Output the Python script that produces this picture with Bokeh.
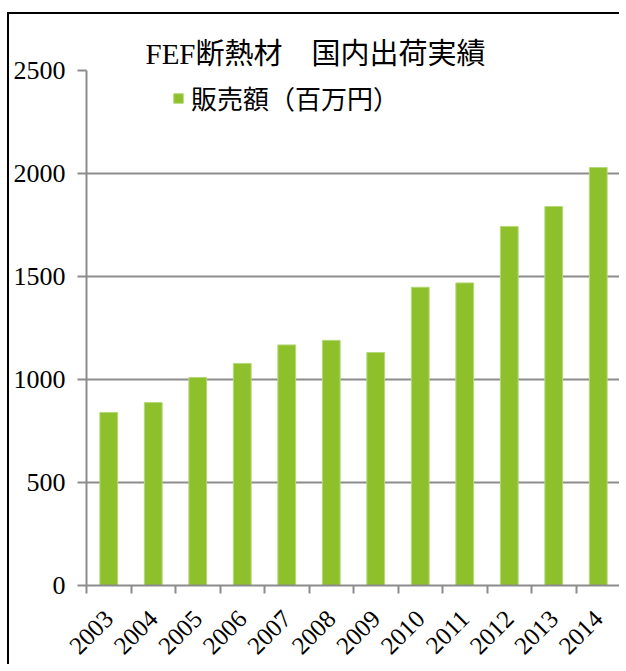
from math import pi
from bokeh.plotting import figure
from bokeh.models import (Range1d, LinearAxis, FixedTicker, Title,
                          Legend, LegendItem)
from bokeh.embed import file_html
from bokeh.resources import INLINE

years = ["2003", "2004", "2005", "2006", "2007", "2008",
         "2009", "2010", "2011", "2012", "2013", "2014"]
sales = [840, 888, 1010, 1078, 1168, 1190, 1131, 1448, 1469, 1743, 1840, 2029]
y_ticks = [0, 500, 1000, 1500, 2000, 2500]
title_text = "FEF断熱材　国内出荷実績"
series_name = "販売額（百万円）"

SERIF = "'Liberation Serif', 'Noto Sans CJK JP'"
GRID = "#8c8c8c"
GREEN = "#8dc02a"

n = len(years)
centers = [i + 0.5 for i in range(n)]
bounds = list(range(n + 1))

p = figure(x_range=Range1d(0, n), y_range=Range1d(0, 2500), width=612, height=652,
           output_backend="svg", toolbar_location=None,
           x_axis_location=None, y_axis_location="left",
           min_border_left=77, min_border_top=56, min_border_right=1,
           min_border_bottom=81)
p.styles = {"border-left": "2px solid #000", "border-top": "2px solid #000",
            "margin-top": "12px", "margin-left": "7px"}
p.outline_line_color = None
p.background_fill_color = "white"
p.border_fill_color = "white"

p.title = Title(text=title_text, align="left", offset=59, standoff=2,
                text_font=SERIF, text_font_size="29px", text_font_style="normal",
                text_color="black")

r = p.vbar(x=centers, top=sales, width=0.4, fill_color=GREEN,
           line_color="#b5d97a", line_width=1)

# y axis
ya = p.yaxis[0]
ya.ticker = FixedTicker(ticks=y_ticks)
ya.axis_line_color = GRID
ya.axis_line_width = 2
ya.major_tick_line_color = GRID
ya.major_tick_line_width = 2
ya.major_tick_out = 9
ya.major_tick_in = 0
ya.minor_tick_line_color = None
ya.major_label_text_font = SERIF
ya.major_label_text_font_size = "26px"
ya.major_label_text_color = "black"
ya.major_label_standoff = 12

p.xgrid.grid_line_color = None
p.ygrid.ticker = FixedTicker(ticks=y_ticks)
p.ygrid.grid_line_color = GRID
p.ygrid.grid_line_width = 2

# x axis: labels at category centres, tick marks at category boundaries
xa = LinearAxis(ticker=FixedTicker(ticks=centers, minor_ticks=bounds),
                major_label_overrides={c: y for c, y in zip(centers, years)})
xa.axis_line_color = GRID
xa.axis_line_width = 2
xa.major_tick_line_color = None
xa.major_tick_out = 0
xa.major_tick_in = 0
xa.minor_tick_line_color = GRID
xa.minor_tick_line_width = 2
xa.minor_tick_out = 8
xa.minor_tick_in = 0
xa.major_label_orientation = pi / 4
xa.major_label_text_font = SERIF
xa.major_label_text_font_size = "25px"
xa.major_label_text_color = "black"
xa.major_label_standoff = 21
p.add_layout(xa, "below")

# legend
legend = Legend(items=[LegendItem(label=series_name, renderers=[r])],
                location=(86, 469), padding=0, margin=0, spacing=0,
                label_standoff=7, glyph_width=12, glyph_height=12,
                label_text_font=SERIF, label_text_font_size="26px",
                label_text_color="black",
                background_fill_alpha=0, border_line_color=None)
p.add_layout(legend, "center")

open("out.html", "w").write(file_html(p, INLINE))
